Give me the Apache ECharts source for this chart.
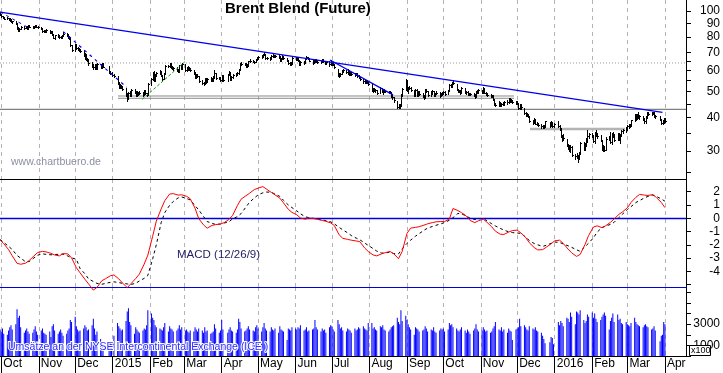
<!DOCTYPE html>
<html><head><meta charset="utf-8">
<script src="https://cdn.jsdelivr.net/npm/echarts@6/dist/echarts.min.js"></script>
<style>html,body{margin:0;padding:0;background:#fff}#c{width:723px;height:373px}</style>
</head><body><div id="c"></div><script>
// ---------- calendar ----------
const firstDay = '2014-09-30', lastDay = '2016-04-01';
const holidays = ['2014-12-25','2014-12-26','2015-01-01','2015-04-03','2015-12-25','2016-01-01','2016-03-25'];
const monthTicks = ['2014-10-01','2014-11-01','2014-12-01','2015-01-01','2015-02-01','2015-03-01','2015-04-01','2015-05-01','2015-06-01','2015-07-01','2015-08-01','2015-09-01','2015-10-01','2015-11-01','2015-12-01','2016-01-01','2016-02-01','2016-03-01','2016-04-01'];
const monthLabels = ['Oct','Nov','Dec','2015','Feb','Mar','Apr','May','Jun','Jul','Aug','Sep','Oct','Nov','Dec','2016','Feb','Mar','Apr'];
const priceTicks = [25,30,35,40,45,50,55,60,65,70,80,90,100];
const priceLabels = [30,40,50,60,70,80,90,100];
const macdTicks = [-5,-4,-3,-2,-1,0,1,2];
const macdLabels = [-4,-3,-2,-1,0,1,2];
const volTicks = [0,1000,2000,3000,4000,5000,6000];
const volLabels = [1000,3000];

// ---------- daily price (close / high / low), one row per month ----------
const close = [
97.0,
95.5,94.6,93.6,94.0,93.3,92.6,91.2,91.4,89.8,86.2,85.3,86.0,87.4,86.6,87.6,86.0,88.0,87.3,86.9,87.2,88.3,87.4,86.9,
85.9,84.2,84.4,84.0,84.6,83.1,83.6,81.6,79.6,81.0,80.9,80.1,79.8,81.0,82.1,81.4,80.0,79.4,74.5,71.8,
74.7,72.7,72.0,71.7,71.1,68.2,68.8,66.2,65.6,63.7,62.9,61.7,63.0,61.0,63.2,61.9,63.5,62.0,59.0,58.6,57.8,
57.0,54.0,52.2,52.4,52.0,51.2,48.6,47.5,49.6,48.6,50.9,49.8,48.6,49.7,49.2,49.6,48.9,50.3,49.2,48.8,53.5,
55.8,58.7,55.4,57.6,58.8,59.4,57.5,55.9,58.3,62.5,62.3,63.4,61.5,61.2,61.3,60.0,59.7,62.6,61.1,63.5,
60.2,61.5,61.0,60.8,60.0,58.8,56.8,57.6,57.2,54.9,54.0,53.6,55.8,54.5,55.5,56.0,55.3,56.5,58.6,56.3,56.2,55.2,
57.0,55.2,58.0,58.9,55.8,56.6,57.9,58.0,58.5,60.3,63.8,63.4,63.4,62.2,62.8,64.8,65.3,64.9,64.7,65.9,66.8,
67.6,67.6,68.7,69.0,66.8,66.7,66.2,68.1,68.1,67.9,68.1,67.5,65.3,66.3,67.8,66.7,65.4,63.8,63.4,63.9,66.9,
66.3,66.9,65.2,63.4,64.7,64.1,66.3,67.1,66.5,65.3,64.0,65.1,65.3,65.3,64.4,64.7,65.9,64.9,63.9,64.6,63.4,65.0,
63.4,63.4,61.6,57.8,58.1,58.3,59.9,60.0,59.1,59.8,58.3,58.8,58.3,57.9,58.4,57.3,56.5,55.8,54.6,54.4,54.5,54.5,53.3,
50.6,51.0,50.6,50.5,49.6,51.4,50.2,50.7,50.2,50.2,49.7,49.8,48.1,47.6,46.4,43.7,44.2,44.1,48.5,51.1,55.2,
50.6,51.6,51.7,50.7,48.6,50.6,48.6,49.9,49.1,48.1,47.6,50.8,50.1,48.5,49.9,50.1,48.7,49.2,49.6,48.3,49.2,49.4,
49.7,49.1,50.3,53.0,52.4,54.2,53.8,50.9,50.3,50.2,49.7,51.5,49.6,49.7,48.8,49.0,49.0,48.5,47.8,50.1,49.8,50.6,
49.8,51.6,49.6,49.0,48.4,48.2,48.2,46.8,45.0,44.5,45.5,44.5,45.0,45.1,45.6,45.8,47.1,46.1,46.4,45.8,45.5,
45.3,43.3,44.6,43.8,41.5,41.0,40.9,40.5,38.7,38.7,39.3,38.0,37.8,37.6,37.1,36.9,37.2,38.7,37.4,38.6,37.2,38.0,
37.2,36.4,34.2,33.8,33.6,31.6,30.9,30.4,31.1,29.0,28.7,28.9,28.0,29.4,32.2,30.6,31.9,33.2,34.0,34.8,
34.3,32.8,35.1,34.5,34.1,33.0,30.5,31.0,30.2,33.4,33.4,32.3,34.6,34.3,33.1,34.8,33.4,34.5,35.6,35.8,36.6,
37.3,37.4,37.6,39.0,40.9,39.7,41.1,40.1,40.4,39.6,38.8,40.4,41.6,41.3,41.6,41.8,40.5,40.5,39.2,38.3,38.4,39.6,38.7
];
const high = [
98.3,
97.4,96.1,95.0,94.6,94.5,93.8,93.0,92.1,91.8,90.1,86.8,86.6,87.9,87.9,88.1,88.0,88.5,88.6,87.8,87.7,88.9,88.7,87.9,
87.2,86.2,85.1,85.0,85.3,85.0,84.2,83.9,82.0,81.6,81.8,81.3,80.7,81.4,83.2,82.6,81.7,80.4,79.7,74.9,
75.3,75.0,73.2,72.6,72.1,71.4,69.9,69.0,66.7,65.9,64.4,63.4,63.5,63.3,63.7,63.6,64.0,63.8,62.2,59.6,59.0,
58.4,57.2,54.4,53.3,52.9,52.5,51.4,49.2,50.0,50.2,51.3,51.2,50.1,50.2,50.0,50.1,49.9,50.7,50.6,49.6,53.8,
56.3,59.2,59.5,58.0,59.3,60.0,59.7,57.8,58.7,62.8,63.1,64.1,63.7,62.1,61.9,61.6,60.5,62.9,63.0,63.9,
63.6,62.0,62.1,61.6,61.2,60.4,59.1,58.1,58.0,57.4,55.3,54.5,56.2,56.1,56.0,56.6,56.3,57.0,60.0,58.9,56.9,56.5,
57.5,57.8,58.4,59.5,59.1,57.2,58.4,58.6,59.0,60.8,64.2,64.4,64.1,63.8,63.4,65.2,65.9,65.8,65.3,66.3,67.4,
68.1,68.2,69.2,70.3,69.3,67.4,67.1,68.6,68.9,68.6,68.7,68.9,67.7,66.8,68.2,68.0,66.9,65.6,64.3,64.4,67.3,
67.4,67.5,67.2,65.5,65.2,65.1,66.7,67.7,67.6,66.8,65.6,65.5,65.9,65.9,65.6,65.3,66.3,66.2,65.2,65.1,64.8,65.4,
65.2,64.0,63.6,60.8,58.9,58.9,60.4,60.7,60.3,60.5,60.0,59.3,59.1,58.6,58.9,58.6,57.6,56.8,56.0,55.1,55.2,55.1,54.7,
53.4,51.5,51.5,51.1,50.8,51.8,51.7,51.3,51.0,50.7,50.4,50.3,50.0,48.5,47.8,46.2,44.8,44.9,48.9,51.6,55.6,
55.0,52.1,52.5,52.0,50.9,51.0,51.2,50.4,50.1,49.4,48.5,51.1,51.2,50.3,50.3,50.6,50.3,49.6,50.1,49.8,49.6,49.9,
50.3,50.1,50.8,53.3,53.5,54.5,55.2,53.6,51.3,50.8,50.5,51.9,51.4,50.2,50.1,49.6,49.6,49.3,48.8,50.4,50.5,51.0,
50.9,51.9,51.7,49.9,49.3,48.8,48.7,48.4,47.0,45.4,46.0,45.9,45.4,45.6,46.0,46.6,47.4,47.3,46.8,46.6,46.1,
46.0,45.5,45.0,44.9,43.5,41.8,41.7,41.2,40.6,39.2,39.7,39.6,38.4,38.1,37.9,37.4,37.6,38.9,38.4,38.9,38.6,38.3,
38.8,37.5,36.5,34.5,34.6,33.4,31.9,31.5,31.6,31.2,29.2,29.5,29.0,29.8,32.4,32.4,32.2,33.5,35.8,35.0,
35.0,34.5,35.4,35.8,34.9,34.3,33.1,31.7,31.2,33.7,34.0,35.3,34.9,35.2,34.6,35.0,34.9,34.7,35.8,36.3,36.9,
37.5,37.7,37.9,39.2,41.3,41.1,41.4,41.9,40.8,40.5,39.7,40.6,42.0,42.0,41.9,42.1,41.9,40.8,40.5,39.4,39.3,40.0,39.7
];
const low = [
96.5,
95.0,94.0,93.0,93.1,92.8,91.9,90.7,90.5,89.2,85.6,84.3,84.5,85.6,86.0,86.1,85.6,85.7,86.8,86.2,86.4,86.9,86.8,86.3,
85.3,83.6,83.5,83.3,83.4,82.6,82.7,81.0,79.0,78.8,80.2,79.5,79.1,79.3,80.6,80.7,79.4,78.7,73.9,71.0,
70.9,72.1,71.3,71.0,70.4,67.7,66.3,65.7,64.8,63.1,62.0,60.6,60.9,60.5,60.8,61.4,61.5,61.6,58.6,58.0,57.2,
56.5,53.6,51.6,51.5,51.4,50.6,48.2,46.0,46.8,48.1,48.0,49.3,48.1,48.2,48.7,48.8,48.3,48.6,48.8,48.3,48.6,
52.9,55.4,55.0,55.0,57.1,58.2,57.0,55.4,55.6,58.0,61.8,61.9,61.0,60.5,60.4,59.5,59.1,59.4,60.7,60.8,
59.8,59.8,60.4,60.2,59.5,58.3,56.3,56.2,56.6,54.4,53.4,53.0,53.2,54.0,54.2,55.0,54.8,55.0,56.2,55.9,55.6,54.7,
54.9,54.7,55.0,57.6,55.3,55.3,56.3,57.2,57.5,58.2,60.0,62.8,62.7,61.7,61.6,62.5,64.3,64.3,64.0,64.3,65.5,
66.3,66.9,67.2,68.3,66.2,66.0,65.6,65.9,67.4,67.2,67.3,67.0,64.8,64.9,66.0,66.2,65.0,63.3,62.8,62.9,63.6,
65.8,65.7,64.8,62.9,62.6,63.6,63.8,65.9,66.0,64.9,63.5,63.7,64.6,64.6,63.9,64.0,64.4,64.4,63.4,63.5,62.4,63.0,
62.9,62.8,61.1,57.2,56.6,57.4,58.0,59.2,58.5,58.3,57.8,57.9,57.8,57.3,57.5,56.8,56.0,55.3,54.0,53.8,53.9,53.9,52.8,
50.2,50.0,50.1,50.0,49.1,49.4,49.8,49.1,49.8,49.7,49.2,49.3,47.7,47.1,45.9,43.3,43.4,43.6,44.0,48.0,50.6,
50.2,49.6,51.0,50.3,48.2,48.3,48.2,48.0,48.6,47.7,47.1,47.4,49.7,48.0,48.2,49.0,48.3,48.3,48.9,47.9,48.0,48.7,
48.9,48.7,48.9,50.1,51.9,51.8,53.3,50.5,49.8,49.7,49.1,49.5,49.2,49.1,48.4,48.4,48.5,48.1,47.4,47.6,49.3,49.4,
49.4,49.6,49.2,48.6,48.0,47.8,47.6,46.4,44.6,44.1,44.2,44.1,44.0,44.6,44.7,45.0,45.5,45.8,45.8,45.4,45.1,
44.9,42.9,43.0,43.0,41.1,40.4,40.4,40.1,38.4,37.8,38.3,37.7,37.4,37.2,36.7,36.5,36.6,37.0,37.0,37.2,36.9,36.9,
36.9,36.0,33.9,32.7,33.0,31.3,30.4,29.9,29.8,28.7,28.0,28.3,27.3,27.9,29.3,30.3,30.2,31.4,32.3,33.5,
33.8,32.4,32.1,34.1,33.6,32.6,30.2,30.1,29.9,30.2,32.9,32.0,31.9,33.9,32.7,33.0,33.0,32.2,34.1,35.0,35.4,
36.0,36.5,36.8,37.3,38.7,39.1,39.4,39.7,39.4,39.1,38.1,38.3,40.0,40.8,40.8,41.1,40.1,39.8,39.0,37.9,38.0,38.2,38.4
];
// ---------- daily volume (x100) ----------
const volume = [
2500,
2300,2600,2100,2000,2400,2700,2900,2500,3000,4400,3600,3800,2700,2200,2400,2600,2300,2100,2200,2500,2800,2300,2000,
2400,2600,2200,2100,2000,2300,1800,2800,3000,2400,2100,2300,2500,2200,1900,2100,2400,2600,3400,3200,
3700,2800,2500,2300,2400,2600,2900,2700,2400,2500,2900,3500,2600,2000,2300,1600,1300,700,1200,1400,1100,
1900,3100,2800,2600,2400,2500,3300,4200,4500,3200,2900,2100,2700,2500,2300,2200,2400,2600,2500,2900,4300,
4000,3600,3400,2900,2700,2600,2500,2400,2700,3100,2300,2800,2600,2500,2300,2400,2600,2900,2500,2700,
2400,2500,2300,2200,2400,2300,2700,2500,2300,2600,2400,2200,2700,2300,2400,2100,2200,2300,3000,2600,2200,2400,
3400,2500,2200,2500,2700,2400,2300,2200,2500,3500,3200,2600,2300,2400,2600,2800,2500,2400,2300,2700,2900,
2600,2300,2700,3100,2600,2400,2300,2700,2500,2400,2600,2200,2800,2500,2400,2300,1500,2600,2500,2400,2700,
2600,2500,2700,2600,2900,2400,2500,2700,2300,2400,2500,2600,3400,2700,2500,2300,2600,2400,2500,2200,2700,2900,
2800,2500,2300,3400,3000,2600,2700,2400,2300,2600,2500,2400,2200,2600,2400,2500,2700,2600,2800,2600,2500,2400,3100,
3100,2600,2700,2500,2400,2800,2700,2900,2500,2400,2300,2500,2700,2800,2900,3600,3200,3000,4300,3300,3800,
3400,3000,2700,2500,2000,2700,2600,2500,2300,2400,2500,2800,2600,2300,2500,2400,2700,2300,2200,2400,2600,2500,
2600,2300,2500,3100,2900,3000,2700,2600,2400,2300,2500,2700,2400,2200,2500,2300,2100,2400,2600,3000,2500,2300,
2400,2700,2500,2300,2400,2200,2300,2600,2800,3200,2500,2400,2700,2300,2500,2200,2600,2400,2300,1500,2500,
2600,2700,3500,2800,2900,2700,2500,2400,2800,2600,2500,2700,2400,2300,2200,1900,1600,1200,1300,1800,1700,1100,
3200,2900,3300,3100,2800,3600,3500,3200,4100,3700,3000,4200,4100,3900,4300,3400,3100,3300,3900,3700,
4100,3600,4000,3500,3200,3400,3700,3900,4100,3800,2500,3300,3600,4000,3200,3900,3400,3500,3100,3000,3200,
3000,2900,2800,3100,3600,3200,3000,2900,2800,2700,2900,3000,2800,2700,2500,2600,2800,2400,1400,1900,2000,3200,3000
];
// ---------- MACD (12/26/9), read on Tuesdays and Fridays ----------
const macd = [
-1.64,-1.91,-2.36,-2.82,-3.39,-3.46,-3.38,-3.18,-2.83,-2.58,-2.49,-2.53,-2.64,-2.76,-2.83,-2.66,-2.68,-2.98,-3.72,-4.1,
-4.58,-4.93,-5.4,-5.2,-4.7,-4.55,-4.33,-4.26,-4.56,-4.86,-5.22,-4.93,-4.53,-4.2,-3.45,-2.77,-1.35,-0.22,0.7,1.32,
1.82,1.85,1.74,1.76,1.65,1.47,0.75,-0.03,-0.5,-0.75,-0.54,-0.48,-0.44,-0.33,-0.09,0.21,0.96,1.43,1.69,1.88,
2.16,2.26,2.38,2.19,1.94,1.76,1.51,1.16,0.67,0.44,0.26,0.02,-0.07,0.02,-0.03,-0.08,-0.17,-0.23,-0.35,-0.55,
-1.25,-1.51,-1.59,-1.65,-1.71,-1.76,-2.23,-2.5,-2.76,-2.83,-2.68,-2.59,-2.5,-2.66,-3.04,-2.5,-1.14,-0.74,-0.69,-0.64,
-0.52,-0.42,-0.33,-0.27,-0.25,-0.25,-0.05,0.73,0.58,0.42,0.17,-0.16,-0.33,-0.19,-0.07,-0.3,-0.65,-0.97,-1.2,-1.22,
-1.04,-0.93,-0.89,-1.1,-1.44,-1.84,-2.2,-2.38,-2.36,-2.18,-1.92,-1.7,-1.65,-1.89,-2.32,-2.6,-2.87,-2.72,-1.98,-1.29,
-0.66,-0.57,-0.71,-0.57,-0.31,-0.06,0.29,0.48,0.78,1.19,1.57,1.79,1.74,1.71,1.78,1.55,1.19,0.8
];
const signal = [
-1.6,-1.82,-2.11,-2.35,-2.8,-3.0,-3.27,-3.26,-2.98,-2.78,-2.67,-2.72,-2.75,-2.73,-2.71,-2.7,-2.84,-2.98,-3.08,-3.77,
-4.17,-4.55,-4.76,-4.9,-4.97,-4.9,-4.82,-4.78,-4.84,-4.89,-4.94,-4.98,-4.89,-4.72,-4.52,-4.3,-3.05,-2.0,-0.33,0.43,
0.97,1.26,1.53,1.6,1.48,1.38,0.95,0.63,0.13,-0.25,-0.38,-0.47,-0.43,-0.36,-0.27,-0.04,0.12,0.35,0.84,1.2,
1.53,1.75,1.91,1.97,1.95,1.82,1.64,1.35,1.0,0.8,0.55,0.34,0.1,0.05,-0.01,-0.06,-0.12,-0.18,-0.27,-0.42,
-0.69,-0.87,-1.1,-1.3,-1.49,-1.62,-1.86,-2.04,-2.28,-2.47,-2.62,-2.6,-2.56,-2.66,-2.68,-2.3,-1.89,-1.65,-1.35,-1.16,
-0.91,-0.74,-0.62,-0.53,-0.42,-0.33,-0.15,0.04,0.36,0.33,0.17,0.01,-0.1,-0.05,-0.01,-0.19,-0.42,-0.58,-0.76,-0.89,
-1.02,-1.08,-1.11,-1.14,-1.42,-1.67,-1.9,-2.0,-2.12,-2.03,-1.89,-1.79,-1.82,-1.93,-2.07,-2.19,-2.37,-2.49,-2.14,-1.87,
-1.47,-1.05,-0.7,-0.6,-0.46,-0.31,0.06,0.31,0.65,0.87,1.18,1.32,1.53,1.64,1.74,1.64,1.45,1.28
];
// ---------- drawn lines: [time, price] ----------
const resistanceLine = [['2014-09-30 00:00', 99.1], ['2016-03-30 00:00', 41.78]];
const steepLine = [['2015-06-29 10:19', 65.6], ['2015-08-20 10:48', 48.6]];
const dashLineA = [['2014-09-30 00:00', 99.1], ['2014-10-23 21:00', 86.4]];
const dashLineB = [['2014-11-21 04:48', 83.7], ['2015-01-12 13:12', 51.88]];
const greenLine = [['2015-01-25 10:19', 46.8], ['2015-03-01 16:34', 64.7]];
const channelTop = [['2015-01-05 08:53', 48.14], ['2015-11-28 08:53', 48.14]];
const channelBottom = [['2015-01-05 08:53', 47.20], ['2015-11-28 08:53', 47.20]];
const neckline = [['2015-12-11 14:24', 36.24], ['2016-02-28 00:00', 36.24]];
const levelDotted = 63.95;
const levelSolid = 42.94;

// ---------- helpers ----------
function ts(s) {
  const [d, t] = s.split(' ');
  const [y, m, dd] = d.split('-').map(Number);
  let hh = 0, mm = 0;
  if (t) { [hh, mm] = t.split(':').map(Number); }
  return new Date(y, m - 1, dd, hh, mm).getTime();
}
function fmtKey(dt) {
  const p = n => (n < 10 ? '0' : '') + n;
  return dt.getFullYear() + '-' + p(dt.getMonth() + 1) + '-' + p(dt.getDate());
}
const tradingDays = [], macdDays = [];
for (let dt = new Date(ts(firstDay)); dt.getTime() <= ts(lastDay); dt.setDate(dt.getDate() + 1)) {
  const wd = dt.getDay();
  if (wd === 2 || wd === 5) macdDays.push(dt.getTime());
  if (wd === 0 || wd === 6) continue;
  if (holidays.includes(fmtKey(dt))) continue;
  tradingDays.push(dt.getTime());
}
const nP = Math.min(tradingDays.length, close.length, high.length, low.length);
const ohlc = [];
for (let i = 0; i < nP; i++) ohlc.push([tradingDays[i], high[i], low[i], close[i]]);
const volData = [];
for (let i = 0; i < Math.min(tradingDays.length, volume.length); i++) volData.push([tradingDays[i], volume[i]]);
const macdData = [], sigData = [];
for (let i = 0; i < Math.min(macdDays.length, macd.length); i++) macdData.push([macdDays[i], macd[i]]);
for (let i = 0; i < Math.min(macdDays.length, signal.length); i++) sigData.push([macdDays[i], signal[i]]);
const toLine = arr => arr.map(p => [ts(p[0]), p[1]]);

const FONT = "'Liberation Sans', Arial, Helvetica, sans-serif";
const xMin = new Date(2014, 8, 29, 22, 14).getTime();
const xMax = new Date(2016, 3, 18, 9, 36).getTime();
const monthTs = monthTicks.map(ts);
function monthLabel(v) {
  let best = 0, bd = Infinity;
  monthTs.forEach((t, i) => { const d = Math.abs(t - v); if (d < bd) { bd = d; best = i; } });
  return monthLabels[best];
}
const plainNum = v => String(Math.round(v * 100) / 100);
function xAxisFor(i) {
  return {
    type: 'value', gridIndex: i, min: xMin, max: xMax, scale: true,
    axisLine: { show: true, onZero: false, lineStyle: { color: i === 1 ? '#0000dd' : '#000', width: 1 } },
    axisTick: { show: i === 2, customValues: monthTs, length: 17, lineStyle: { color: '#000' } },
    axisLabel: { show: i === 2, customValues: monthTs, formatter: monthLabel, align: 'left',
      padding: [0, 0, 0, 2], margin: 2, fontSize: 12, fontFamily: FONT, color: '#000',
      showMinLabel: true, showMaxLabel: true, hideOverlap: false },
    splitLine: { show: true, lineStyle: { color: '#b8b0b8', type: [4, 4], width: 1 } }
  };
}
function yAxisBase(i) {
  return {
    gridIndex: i, position: 'right',
    axisLine: { show: true, lineStyle: { color: '#000' } },
    splitLine: { show: false },
  };
}
function yLabel(vals) {
  return { customValues: vals, formatter: plainNum, align: 'right', margin: 34, fontSize: 12, fontFamily: FONT, color: '#000' };
}
function seg(data, color, width, type, z) {
  return { type: 'line', xAxisIndex: 0, yAxisIndex: 0, data: toLine(data), symbol: 'none', silent: true,
    lineStyle: { color, width, type: type || 'solid' }, z: z || 5 };
}

const chart = echarts.init(document.getElementById('c'), null, { renderer: 'canvas' });
chart.setOption({
  animation: false,
  backgroundColor: '#fff',
  title: { text: 'Brent Blend (Future)', left: 225, top: 1, padding: 0,
    textStyle: { fontSize: 15, fontWeight: 'bold', fontFamily: FONT, color: '#000' } },
  grid: [
    { left: 0, right: 37, top: 0, height: 179 },
    { left: 0, right: 37, top: 179, height: 108 },
    { left: 0, right: 37, top: 287, height: 69 }
  ],
  xAxis: [xAxisFor(0), xAxisFor(1), xAxisFor(2)],
  yAxis: [
    Object.assign(yAxisBase(0), { type: 'log', logBase: 10, min: 23.58, max: 109.9,
      axisTick: { show: true, customValues: priceTicks, length: 5, lineStyle: { color: '#000' } },
      axisLabel: yLabel(priceLabels) }),
    Object.assign(yAxisBase(1), { type: 'value', min: -5.17, max: 2.95,
      axisTick: { show: true, customValues: macdTicks, length: 5, lineStyle: { color: '#000' } },
      axisLabel: yLabel(macdLabels) }),
    Object.assign(yAxisBase(2), { type: 'value', min: 0, max: 6500,
      axisTick: { show: true, customValues: volTicks, length: 5, lineStyle: { color: '#000' } },
      axisLabel: yLabel(volLabels) })
  ],
  series: [
    { type: 'line', xAxisIndex: 0, yAxisIndex: 0, data: [[xMin, levelDotted], [xMax, levelDotted]], symbol: 'none',
      lineStyle: { color: '#9a9a9a', width: 1, type: [1, 2] }, z: 1, silent: true },
    { type: 'line', xAxisIndex: 0, yAxisIndex: 0, data: [[xMin, levelSolid], [xMax, levelSolid]], symbol: 'none',
      lineStyle: { color: '#808080', width: 1.3 }, z: 1, silent: true },
    seg(channelTop, '#8a8a8a', 1, 'solid', 2),
    seg(channelBottom, '#8a8a8a', 1, 'solid', 2),
    seg(neckline, '#b4b4b4', 2.5, 'solid', 2),
    { type: 'custom', xAxisIndex: 0, yAxisIndex: 0, data: ohlc, z: 3, silent: true,
      encode: { x: 0, y: [1, 2, 3] },
      renderItem: function (params, api) {
        const t = api.value(0);
        const pH = api.coord([t, api.value(1)]);
        const pL = api.coord([t, api.value(2)]);
        const pC = api.coord([t, api.value(3)]);
        const x = Math.round(pH[0]) + 0.5;
        const yc = Math.round(pC[1]) + 0.5;
        return { type: 'group', children: [
          { type: 'line', shape: { x1: x, y1: Math.round(pH[1]), x2: x, y2: Math.round(pL[1]) + 1 }, style: { stroke: '#000', lineWidth: 1 } },
          { type: 'line', shape: { x1: x, y1: yc, x2: x + 1.5, y2: yc }, style: { stroke: '#000', lineWidth: 1 } }
        ] };
      } },
    seg(resistanceLine, '#0000ee', 1.3),
    seg(steepLine, '#0000ee', 1.3),
    seg(dashLineA, '#0000ee', 1, [3, 4]),
    seg(dashLineB, '#0000ee', 1.2, [3, 4]),
    seg(greenLine, '#10a010', 1, [3, 2]),
    { type: 'line', xAxisIndex: 1, yAxisIndex: 1, data: sigData, symbol: 'none', clip: false, silent: true,
      lineStyle: { color: '#000', width: 1, type: [3, 3] }, z: 4 },
    { type: 'line', xAxisIndex: 1, yAxisIndex: 1, data: macdData, symbol: 'none', clip: false, silent: true,
      lineStyle: { color: '#ff0000', width: 1 }, z: 5,
      markLine: { silent: true, symbol: 'none', label: { show: false },
        lineStyle: { color: '#0000dd', width: 1.3, type: 'solid' }, data: [{ yAxis: 0 }] } },
    { type: 'bar', xAxisIndex: 2, yAxisIndex: 2, data: volData, barWidth: 1, silent: true,
      itemStyle: { color: '#0000ff' }, z: 2 }
  ],
  graphic: [
    { type: 'text', left: 11, top: 157, z: 50, style: { text: 'www.chartbuero.de', font: '10.5px ' + FONT, fill: '#8a8fa0' } },
    { type: 'text', left: 177, top: 249, z: 50, style: { text: 'MACD (12/26/9)', font: '11.5px ' + FONT, fill: '#222266' } },
    { type: 'text', left: 7, top: 341, z: 50, style: { text: 'Umsätze an der NYSE Intercontinental Exchange (ICE )',
        font: '10.5px ' + FONT, fill: '#2a2aff', stroke: '#ffffff', lineWidth: 2 } },
    { type: 'rect', z: 60, left: 689, top: 345, shape: { width: 21, height: 10 }, style: { fill: '#fff', stroke: '#000', lineWidth: 1 } },
    { type: 'text', z: 61, left: 691, top: 346, style: { text: 'x100', font: '9px ' + FONT, fill: '#000' } }
  ]
});
</script></body></html>
